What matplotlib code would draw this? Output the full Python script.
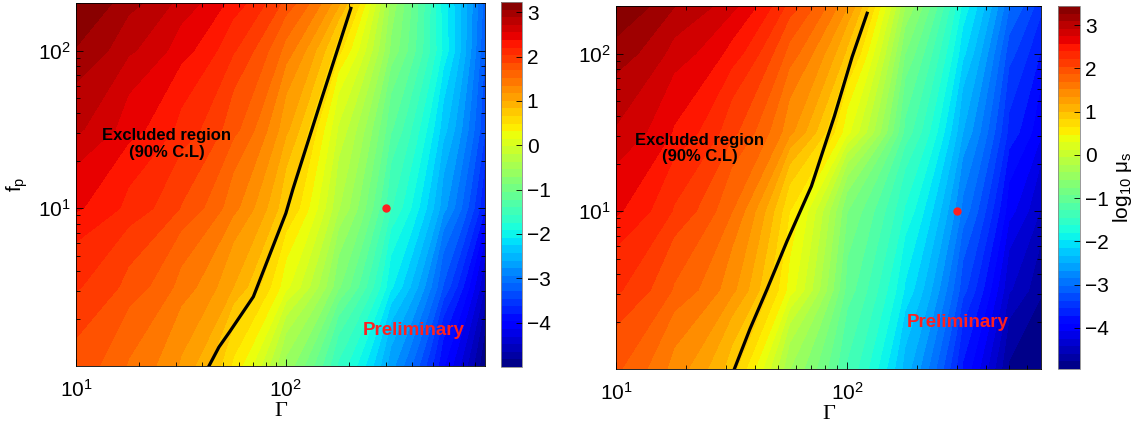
import numpy as np
import matplotlib
matplotlib.use("Agg")
import matplotlib.pyplot as plt
from matplotlib.ticker import FixedLocator, LogLocator, LogFormatterMathtext, NullFormatter

plt.rcParams["font.family"] = ["Liberation Sans", "DejaVu Sans"]
plt.rcParams["mathtext.fontset"] = "custom"
plt.rcParams["mathtext.rm"] = "Liberation Sans"
plt.rcParams["mathtext.it"] = "Liberation Sans:italic"
plt.rcParams["mathtext.default"] = "regular"

# grid (log10 of Gamma, log10 of f_p)
log_fp = [0.0, 0.5, 1.0, 1.5, 2.0, 2.3]

# left panel: log10 mu_s
log_gamma_left = [1.0, 1.25, 1.5, 1.75, 2.0, 2.25, 2.5, 2.75, 2.95]
mu_left = [
    [1.80, 1.50, 1.15, 0.45, -0.60, -1.60, -2.70, -3.95, -5.00],
    [2.05, 1.80, 1.45, 1.00, 0.20, -0.85, -2.05, -3.30, -4.50],
    [2.40, 2.15, 1.85, 1.40, 0.70, -0.35, -1.55, -2.70, -3.80],
    [2.75, 2.45, 2.15, 1.75, 1.05, -0.05, -1.20, -2.35, -3.45],
    [3.05, 2.75, 2.45, 2.05, 1.45, 0.55, -0.75, -1.95, -3.30],
    [3.23, 2.95, 2.65, 2.30, 1.80, 1.05, -0.60, -2.00, -3.20],
]
# 90% C.L. line, left panel
cl_gamma_left = [43, 48, 54, 70, 100, 108, 147, 204]
cl_fp_left = [1.0, 1.32, 1.65, 2.75, 9.3, 13.2, 48, 185]

# right panel: log10 mu_s
log_gamma_right = [1.0, 1.25, 1.5, 1.75, 2.0, 2.25, 2.5, 2.7, 2.84]
mu_right = [
    [1.90, 1.45, 0.90, -0.40, -1.30, -2.40, -3.75, -4.80, -4.95],
    [2.25, 1.85, 1.40, 0.40, -1.00, -2.00, -3.30, -4.40, -4.75],
    [2.60, 2.20, 1.70, 0.65, -0.75, -1.65, -2.90, -4.00, -4.45],
    [2.90, 2.55, 2.10, 1.40, 0.35, -1.15, -2.50, -3.60, -4.05],
    [3.20, 2.85, 2.50, 1.80, 0.95, -0.75, -2.10, -3.30, -3.75],
    [3.44, 3.10, 2.80, 2.15, 1.35, -0.40, -1.85, -3.00, -3.50],
]
cl_gamma_right = [32.5, 38, 45, 55, 70, 88, 105, 122]
cl_fp_right = [1.0, 1.8, 3.2, 6.5, 14.4, 40, 95, 180]

point_gamma = 300
point_fp = 10

panels = [
    dict(lg=log_gamma_left, mu=mu_left, clg=cl_gamma_left, clf=cl_fp_left,
         xmax=890, crange=(-5.0, 3.23),
         ax_rect=[0.0667, 0.1388, 0.3588, 0.854],
         cb_rect=[0.4395, 0.1365, 0.0184, 0.8588],
         excl=(27, 25.5), prelim=(405, 1.67)),
    dict(lg=log_gamma_right, mu=mu_right, clg=cl_gamma_right, clf=cl_fp_right,
         xmax=690, crange=(-4.95, 3.44),
         ax_rect=[0.5404, 0.1318, 0.3728, 0.854],
         cb_rect=[0.928, 0.1318, 0.0193, 0.854],
         excl=(23, 25), prelim=(300, 1.98)),
]

fig = plt.figure(figsize=(11.4, 4.25), dpi=100)

for i, p in enumerate(panels):
    ax = fig.add_axes(p["ax_rect"])
    cax = fig.add_axes(p["cb_rect"])
    G, F = np.meshgrid(10 ** np.array(p["lg"]), 10 ** np.array(log_fp))
    lo, hi = p["crange"]
    levels = np.linspace(lo, hi, 49)
    Z = np.clip(np.array(p["mu"]), lo, hi)
    cf = ax.contourf(G, F, Z, levels=levels, cmap="jet")
    ax.plot(p["clg"], p["clf"], color="black", lw=2.3,
            solid_joinstyle="round")
    ax.plot(point_gamma, point_fp, "o", color="#ff2020", ms=5)
    ax.text(p["excl"][0], p["excl"][1], "Excluded region\n(90% C.L)",
            fontsize=12, fontweight="bold", ha="center", va="center",
            linespacing=1.15)
    ax.text(p["prelim"][0], p["prelim"][1], "Preliminary", color="#ff2020",
            fontsize=13.5, fontweight="bold", ha="center", va="center")
    ax.set_xscale("log")
    ax.set_yscale("log")
    ax.set_xlim(10, p["xmax"])
    ax.set_ylim(1, 200)
    ax.xaxis.set_major_locator(FixedLocator([10, 100]))
    ax.yaxis.set_major_locator(FixedLocator([10, 100]))
    for axis in (ax.xaxis, ax.yaxis):
        axis.set_major_formatter(LogFormatterMathtext())
        axis.set_minor_locator(LogLocator(base=10, subs=np.arange(2, 10)))
        axis.set_minor_formatter(NullFormatter())
    ax.tick_params(which="both", direction="in", top=True, right=True,
                   labelsize=15, width=0.6)
    ax.tick_params(which="major", length=5)
    ax.tick_params(which="minor", length=3)
    ax.tick_params(axis="x", pad=9)
    ax.set_xlabel("Γ", fontsize=16, family="Liberation Serif", labelpad=1)
    if i == 0:
        ax.set_ylabel("$f_p$", fontsize=15, labelpad=6)
    for s in ax.spines.values():
        s.set_linewidth(0.6)

    cb = fig.colorbar(cf, cax=cax, ticks=range(-4, 4))
    cb.ax.tick_params(direction="in", length=4, labelsize=15, width=0.6)
    cb.outline.set_linewidth(0.6)
    cb.outline.set_edgecolor("#888888")
    if i == 1:
        cb.set_label("log$_{10}$ μ$_s$", fontsize=15, labelpad=2)

fig.savefig("out.png", dpi=100)
